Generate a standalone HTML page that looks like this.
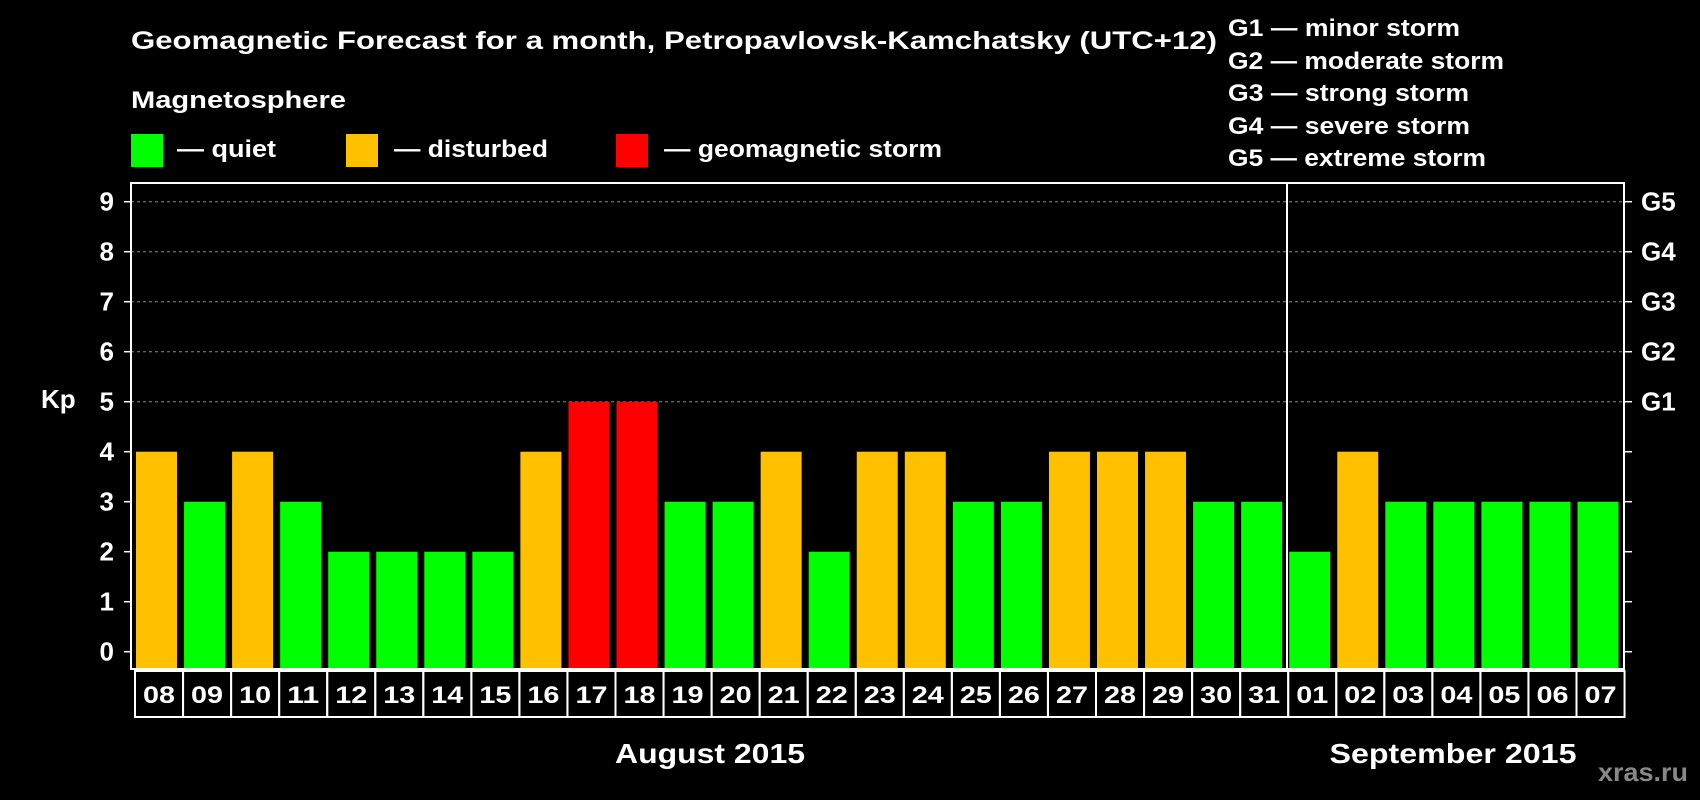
<!DOCTYPE html>
<html><head><meta charset="utf-8"><style>
html,body{margin:0;padding:0;background:#000;width:1700px;height:800px;overflow:hidden}
svg{display:block;font-family:"Liberation Sans",Arial,sans-serif;font-weight:bold}
</style></head><body>
<svg id="chart" width="1700" height="800" viewBox="0 0 1700 800">
<text x="131" y="49" fill="#fff" font-size="25" textLength="1086" lengthAdjust="spacingAndGlyphs">Geomagnetic Forecast for a month, Petropavlovsk-Kamchatsky (UTC+12)</text>
<g fill="#fff" font-size="24">
<text x="1228" y="36" textLength="232" lengthAdjust="spacingAndGlyphs">G1 — minor storm</text>
<text x="1228" y="69" textLength="276" lengthAdjust="spacingAndGlyphs">G2 — moderate storm</text>
<text x="1228" y="101" textLength="241" lengthAdjust="spacingAndGlyphs">G3 — strong storm</text>
<text x="1228" y="134" textLength="242" lengthAdjust="spacingAndGlyphs">G4 — severe storm</text>
<text x="1228" y="166" textLength="258" lengthAdjust="spacingAndGlyphs">G5 — extreme storm</text>
</g>
<text x="131" y="108" fill="#fff" font-size="24" textLength="215" lengthAdjust="spacingAndGlyphs">Magnetosphere</text>
<g fill="#fff" font-size="24">
<rect x="131" y="134" width="32" height="33" fill="#00ff00"/>
<text x="177" y="157" textLength="99" lengthAdjust="spacingAndGlyphs">— quiet</text>
<rect x="346" y="134" width="32" height="33" fill="#ffc000"/>
<text x="394" y="157" textLength="154" lengthAdjust="spacingAndGlyphs">— disturbed</text>
<rect x="616" y="134" width="32" height="33" fill="#ff0000"/>
<text x="664" y="157" textLength="278" lengthAdjust="spacingAndGlyphs">— geomagnetic storm</text>
</g>
<text x="41" y="408" fill="#fff" font-size="26">Kp</text>
<g id="grid"></g><g id="bars"></g><g id="axes"></g><g id="labels"></g>
<text x="710" y="763" fill="#fff" font-size="28" text-anchor="middle" textLength="190" lengthAdjust="spacingAndGlyphs">August 2015</text>
<text x="1453" y="763" fill="#fff" font-size="28" text-anchor="middle" textLength="247" lengthAdjust="spacingAndGlyphs">September 2015</text>
<text x="1688" y="781" fill="#888" font-size="26" text-anchor="end" textLength="90" lengthAdjust="spacingAndGlyphs">xras.ru</text>
</svg>
<script>
const days=["08","09","10","11","12","13","14","15","16","17","18","19","20","21","22","23","24","25","26","27","28","29","30","31","01","02","03","04","05","06","07"];
const kpValues=[4,3,4,3,2,2,2,2,4,5,5,3,3,4,2,4,4,3,3,4,4,4,3,3,2,4,3,3,3,3,3];
const yTicks=[0,1,2,3,4,5,6,7,8,9];
const gLabels=["G1","G2","G3","G4","G5"];
const NS="http://www.w3.org/2000/svg";
const L=131,R=1624,T=183,B=669,X0=136,P=48.05,BW=41;
const y=k=>651.7-50*k;
const xb=i=>X0+i*P;
function mk(tag,attrs,parent){const e=document.createElementNS(NS,tag);for(const k in attrs)e.setAttribute(k,attrs[k]);document.getElementById(parent).appendChild(e);return e;}
yTicks.forEach(k=>{
  if(k>=5){const g=mk('line',{x1:L,x2:R,y1:y(k),y2:y(k),stroke:'#888','stroke-dasharray':'3,3','stroke-width':1},'grid');
  
  }
  const t1=mk('line',{x1:L-7,x2:L,y1:y(k),y2:y(k),stroke:'#fff','stroke-width':1.5},'axes');
  
  
  const t2=mk('line',{x1:R,x2:R+8,y1:y(k),y2:y(k),stroke:'#fff','stroke-width':1.5},'axes');
  
  
  const lb=mk('text',{x:114,y:y(k)+9,fill:'#fff','font-size':26,'text-anchor':'end'},'axes');
  lb.textContent=k;
  
  
  if(k>=5){const gl=mk('text',{x:1641,y:y(k)+9,fill:'#fff','font-size':26},'axes');
  gl.textContent=gLabels[k-5];
  
  }
});
kpValues.forEach((v,i)=>{
  const c=v>=5?'#ff0000':(v>=4?'#ffc000':'#00ff00');
  const top=y(v);
  const r=mk('rect',{x:xb(i),y:top,width:BW,height:B-top,fill:c},'bars');
  
  
  const bx=mk('rect',{x:X0-1+i*P,y:671,width:P,height:46,fill:'none',stroke:'#fff','stroke-width':2},'labels');
  
  
  const t=mk('text',{x:X0-1+i*P+P/2,y:703,fill:'#fff','font-size':24,'text-anchor':'middle',textLength:32,lengthAdjust:'spacingAndGlyphs'},'labels');
  t.textContent=days[i];
  
  
});
const ax=mk('path',{d:`M${L} ${T}H${R}V${B}H${L}Z`,fill:'none',stroke:'#fff','stroke-width':2},'axes');


const dv=mk('line',{x1:1287,x2:1287,y1:T,y2:B,stroke:'#fff','stroke-width':2},'axes');


</script>
</body></html>
